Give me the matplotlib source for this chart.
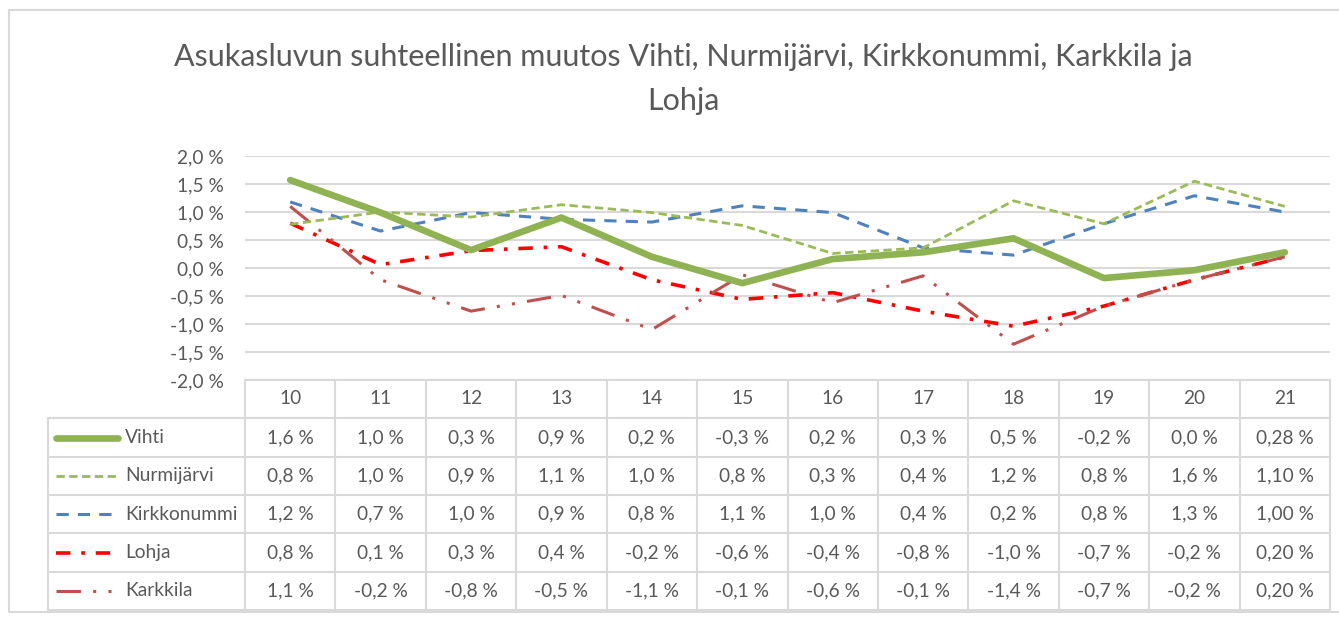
import numpy as np
import matplotlib.pyplot as plt
from matplotlib.ticker import FuncFormatter

plt.rcParams['font.family'] = ['Lato', 'DejaVu Sans']

years = ['10', '11', '12', '13', '14', '15', '16', '17', '18', '19', '20', '21']
names = ['Vihti', 'Nurmijärvi', 'Kirkkonummi', 'Lohja', 'Karkkila']
vihti = [1.57, 0.99, 0.32, 0.90, 0.20, -0.27, 0.16, 0.28, 0.53, -0.18, -0.04, 0.28]
nurmijarvi = [0.78, 1.00, 0.91, 1.13, 0.99, 0.76, 0.26, 0.36, 1.20, 0.79, 1.55, 1.10]
kirkkonummi = [1.18, 0.66, 0.99, 0.87, 0.82, 1.11, 0.99, 0.36, 0.23, 0.79, 1.29, 1.00]
lohja = [0.80, 0.06, 0.31, 0.38, -0.21, -0.56, -0.44, -0.77, -1.04, -0.68, -0.21, 0.20]
karkkila = [1.10, -0.21, -0.77, -0.49, -1.10, -0.12, -0.62, -0.14, -1.36, -0.68, -0.21, 0.20]
series = [vihti, nurmijarvi, kirkkonummi, lohja, karkkila]

# styles: colour, width, dash pattern
styles = [
    ('#8fb253', 4.8, None),
    ('#9bbb59', 2.0, (3, 1.6)),
    ('#4f81bd', 2.2, (4, 3)),
    ('#ff0000', 2.6, (4, 3, 1, 3)),
    ('#c0504d', 2.2, (8, 4, 1, 4, 1, 4)),
]

W, H = 1339, 618
txt = '#595959'
grid = '#d9d9d9'
fs = 13.8

fig = plt.figure(figsize=(W / 100, H / 100), dpi=100)

# outer chart border
border = fig.add_axes([0, 0, 1, 1])
border.set_xlim(0, W)
border.set_ylim(H, 0)
border.axis('off')
border.plot([9, W + 5, W + 5, 9, 9], [10, 10, 612, 612, 10], color=grid, lw=1.5)

fig.text(683 / W, 1 - 57 / H, 'Asukasluvun suhteellinen muutos Vihti, Nurmijärvi, Kirkkonummi, Karkkila ja',
         ha='center', va='center', fontsize=22, color=txt)
fig.text(683 / W, 1 - 101 / H, 'Lohja', ha='center', va='center', fontsize=22, color=txt)

# chart area
x0, x1, ytop, ybot = 245, 1330, 156, 380
ax = fig.add_axes([x0 / W, 1 - ybot / H, (x1 - x0) / W, (ybot - ytop) / H])
x = np.arange(len(years))
order = [3, 4, 2, 1, 0]
for i in order:
    c, lw, d = styles[i]
    ln, = ax.plot(x, series[i], color=c, lw=lw, solid_capstyle='round', zorder=3 + (i == 0))
    if d:
        ln.set_dashes(d)
ax.set_xlim(-0.5, len(years) - 0.5)
ax.set_ylim(-2.0, 2.0)
ax.set_yticks(np.arange(-2.0, 2.01, 0.5))
ax.yaxis.set_major_formatter(FuncFormatter(lambda v, p: f'{v:.1f} %'.replace('.', ',')))
ax.set_xticks([])
ax.tick_params(axis='y', length=0, labelsize=fs, labelcolor=txt, pad=15)
ax.grid(axis='y', color=grid, lw=1.5)
for s in ax.spines.values():
    s.set_visible(False)

# data table
tb = fig.add_axes([0, 0, 1, 1])
tb.set_xlim(0, W)
tb.set_ylim(H, 0)
tb.axis('off')
colw = (x1 - x0) / len(years)
row_y = [380, 418, 457, 495, 533, 572, 610]
lx0 = 48
# horizontal lines
tb.plot([x0, x1], [row_y[0]] * 2, color=grid, lw=1.5)
for yy in row_y[1:]:
    tb.plot([lx0, x1], [yy] * 2, color=grid, lw=1.5)
# vertical lines
tb.plot([lx0, lx0], [row_y[1], row_y[-1]], color=grid, lw=1.5)
for j in range(len(years) + 1):
    xx = x0 + j * colw
    tb.plot([xx, xx], [row_y[0], row_y[-1]], color=grid, lw=1.5)

for j, yl in enumerate(years):
    tb.text(x0 + (j + 0.5) * colw, (row_y[0] + row_y[1]) / 2, yl,
            ha='center', va='center', fontsize=fs, color=txt)

for r, (nm, vals) in enumerate(zip(names, series)):
    yc = (row_y[r + 1] + row_y[r + 2]) / 2
    c, lw, d = styles[r]
    ln, = tb.plot([56, 118], [yc, yc], color=c, lw=lw, solid_capstyle='round')
    if d:
        ln.set_dashes(d)
    tb.text(125, yc, nm, ha='left', va='center', fontsize=fs, color=txt)
    for j, v in enumerate(vals):
        fmt = '{:.2f} %' if j == len(vals) - 1 else '{:.1f} %'
        s = fmt.format(v).replace('.', ',')
        if s.startswith('-0,0'):
            s = s[1:]
        tb.text(x0 + (j + 0.5) * colw, yc, s, ha='center', va='center', fontsize=fs, color=txt)

plt.savefig('out.png', dpi=100)
